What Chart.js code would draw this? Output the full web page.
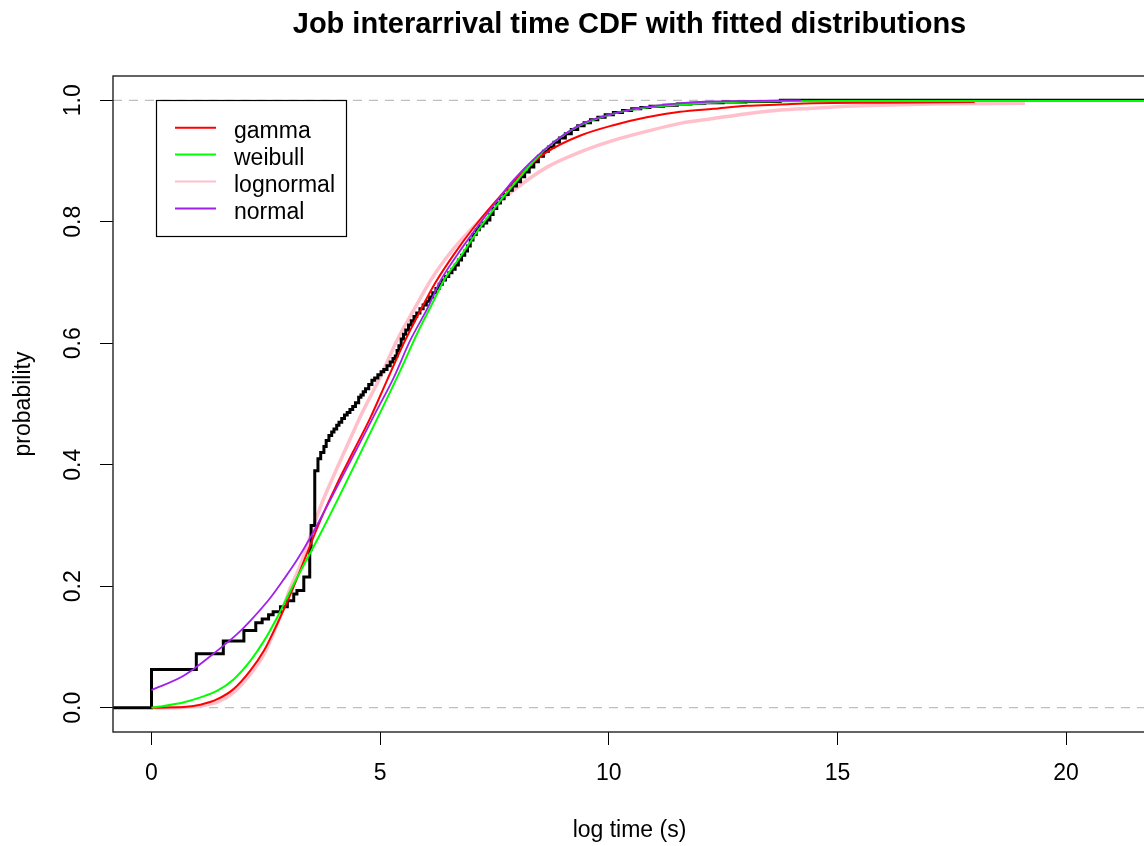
<!DOCTYPE html>
<html>
<head>
<meta charset="utf-8">
<script src="https://cdn.jsdelivr.net/npm/chart.js@4.4.1/dist/chart.umd.min.js"></script>
<style>
  html, body { margin: 0; padding: 0; background: #fff; overflow: hidden; width: 1144px; height: 846px; }
  canvas { display: block; }
</style>
</head>
<body>
<canvas id="c" width="1150" height="846" style="width:1150px;height:846px"></canvas>
<script>
// Empirical CDF of log interarrival time (step points: level after each jump)
const ecdfX = [-1, 0, 0.98, 1.57, 2.02, 2.28, 2.42, 2.56, 2.66, 2.82, 2.97, 3.11, 3.18, 3.33, 3.46, 3.49,
  3.57, 3.64, 3.70, 3.77, 3.82, 3.88, 3.94, 3.99, 4.05, 4.10, 4.16, 4.22, 4.28, 4.34, 4.40, 4.46, 4.53, 4.58, 4.63, 4.68, 4.75, 4.82, 4.88, 4.95,
  5.02, 5.08, 5.15, 5.22, 5.28, 5.33, 5.37, 5.41, 5.46, 5.51, 5.56, 5.62, 5.68, 5.74, 5.80, 5.87, 5.94,
  6.01, 6.08, 6.15, 6.22, 6.29, 6.36, 6.43, 6.50, 6.57, 6.64, 6.71, 6.78, 6.85, 6.91, 6.97,
  7.03, 7.10, 7.17, 7.25, 7.33, 7.40, 7.47, 7.55, 7.63, 7.71, 7.80, 7.89, 7.98,
  8.07, 8.16, 8.26, 8.36, 8.46, 8.57, 8.68, 8.80, 8.92, 9.05, 9.18, 9.32, 9.46, 9.60, 9.76, 9.92,
  10.1, 10.3, 10.5, 10.7, 10.9, 11.2, 11.5, 11.8, 12.1, 12.5, 13.0, 13.75, 22.5];
const ecdfY = [0, 0.063, 0.089, 0.110, 0.127, 0.140, 0.146, 0.153, 0.158, 0.166, 0.176, 0.187, 0.193, 0.215, 0.26, 0.30,
  0.39, 0.41, 0.42, 0.43, 0.44, 0.448, 0.454, 0.459, 0.465, 0.470, 0.476, 0.482, 0.486, 0.491, 0.496, 0.502, 0.511, 0.515, 0.520, 0.525, 0.532, 0.539, 0.543, 0.548,
  0.553, 0.557, 0.563, 0.569, 0.575, 0.579, 0.588, 0.596, 0.607, 0.615, 0.622, 0.630, 0.637, 0.644, 0.650, 0.657, 0.663,
  0.669, 0.676, 0.683, 0.690, 0.697, 0.704, 0.710, 0.716, 0.722, 0.729, 0.737, 0.745, 0.752, 0.760, 0.770,
  0.779, 0.787, 0.793, 0.798, 0.803, 0.812, 0.822, 0.831, 0.838, 0.845, 0.852, 0.859, 0.866,
  0.874, 0.882, 0.890, 0.899, 0.908, 0.916, 0.923, 0.931, 0.938, 0.945, 0.952, 0.958, 0.963, 0.968, 0.972, 0.976,
  0.980, 0.983, 0.986, 0.988, 0.990, 0.992, 0.994, 0.995, 0.996, 0.997, 0.998, 1.0, 1.0];

// Fitted gamma CDF
const gammaX = [0, 0.71, 1.07, 1.44, 1.80, 2.16, 2.46, 2.75, 3.04, 3.22, 3.69, 4.06, 4.42, 4.79, 5.15, 5.51, 5.88, 6.21, 6.61, 7.05, 7.48, 7.92, 8.28, 8.65, 9.38, 10.1, 10.83, 11.56, 12.29, 13.02, 13.75, 14.47, 15.9, 18.0];
const gammaY = [0, 0.001, 0.005, 0.014, 0.031, 0.061, 0.094, 0.138, 0.187, 0.220, 0.308, 0.369, 0.423, 0.478, 0.539, 0.599, 0.654, 0.700, 0.746, 0.791, 0.830, 0.866, 0.893, 0.915, 0.942, 0.959, 0.972, 0.981, 0.986, 0.991, 0.993, 0.995, 0.996, 0.997];

// Fitted Weibull CDF
const weibullX = [0, 0.2, 0.71, 1.07, 1.44, 1.80, 2.16, 2.46, 2.75, 3.04, 3.26, 3.69, 4.06, 4.42, 4.93, 5.44, 5.81, 6.17, 6.39, 6.75, 7.19, 7.63, 7.92, 8.28, 8.65, 9.38, 10.1, 10.83, 11.56, 12.29, 13.0, 15.0, 22.5];
const weibullY = [0, 0.002, 0.009, 0.017, 0.028, 0.047, 0.077, 0.110, 0.149, 0.193, 0.225, 0.286, 0.341, 0.396, 0.475, 0.555, 0.616, 0.670, 0.703, 0.742, 0.791, 0.835, 0.861, 0.893, 0.922, 0.959, 0.978, 0.988, 0.993, 0.996, 0.998, 0.999, 0.999];

// Fitted lognormal CDF
const lognormalX = [0, 0.71, 1.07, 1.44, 1.80, 2.16, 2.46, 2.75, 3.04, 3.22, 3.69, 4.06, 4.42, 4.57, 5.0, 5.37, 5.73, 6.10, 6.46, 6.97, 7.48, 7.92, 8.65, 9.38, 10.1, 10.83, 11.56, 12.29, 13.02, 13.75, 14.48, 15.2, 15.9, 17.1, 19.1];
const lognormalY = [0, 0.0005, 0.003, 0.009, 0.025, 0.055, 0.088, 0.138, 0.198, 0.228, 0.33, 0.395, 0.455, 0.480, 0.544, 0.605, 0.654, 0.703, 0.742, 0.786, 0.824, 0.852, 0.890, 0.915, 0.934, 0.949, 0.962, 0.970, 0.978, 0.984, 0.987, 0.990, 0.992, 0.994, 0.995];

// Fitted normal CDF
const normalX = [0, 0.71, 1.44, 1.87, 2.16, 2.60, 2.89, 3.18, 3.48, 3.77, 4.06, 4.42, 4.86, 5.30, 5.66, 6.03, 6.32, 6.68, 7.12, 7.56, 7.92, 8.58, 9.38, 10.1, 10.83, 11.56, 12.3, 13.2, 14.2];
const normalY = [0.029, 0.053, 0.094, 0.121, 0.143, 0.181, 0.211, 0.243, 0.281, 0.322, 0.364, 0.416, 0.480, 0.544, 0.605, 0.657, 0.703, 0.745, 0.791, 0.835, 0.869, 0.918, 0.960, 0.978, 0.989, 0.995, 0.998, 0.999, 1.0];

// Axes
const xTicks = [0, 5, 10, 15, 20];
const yTicks = [0, 0.2, 0.4, 0.6, 0.8, 1.0];
const refLines = [0, 1];

// Legend
const legendNames = ['gamma', 'weibull', 'lognormal', 'normal'];
const legendColors = ['#ff0000', '#00ff00', '#ffc0cb', '#a020f0'];

const chartTitle = 'Job interarrival time CDF with fitted distributions';
const xTitle = 'log time (s)';
const yTitle = 'probability';

const FONT = '"Liberation Sans", Arial, Helvetica, sans-serif';

function pts(xs, ys) { return xs.map((x, i) => ({ x: x, y: ys[i] })); }

const decor = {
  id: 'decor',
  beforeDatasetsDraw(chart) {
    const { ctx, chartArea: a, scales: { y } } = chart;
    ctx.save();
    ctx.strokeStyle = '#bebebe';
    ctx.lineWidth = 1.3;
    ctx.setLineDash([9, 7]);
    refLines.forEach(v => {
      const py = y.getPixelForValue(v);
      ctx.beginPath();
      ctx.moveTo(a.left, py);
      ctx.lineTo(a.right, py);
      ctx.stroke();
    });
    ctx.restore();
  },
  afterDraw(chart) {
    const { ctx, chartArea: a, scales: { y } } = chart;
    ctx.save();
    // plot frame
    ctx.strokeStyle = '#222';
    ctx.lineWidth = 1.4;
    ctx.strokeRect(a.left, a.top, a.right - a.left, a.bottom - a.top);

    // rotated y tick labels
    ctx.fillStyle = '#000';
    ctx.font = '23px ' + FONT;
    ctx.textAlign = 'center';
    ctx.textBaseline = 'alphabetic';
    yTicks.forEach(v => {
      ctx.save();
      ctx.translate(80, y.getPixelForValue(v));
      ctx.rotate(-Math.PI / 2);
      ctx.fillText(v.toFixed(1), 0, 0);
      ctx.restore();
    });

    // y axis title
    ctx.save();
    ctx.translate(29.5, (a.top + a.bottom) / 2);
    ctx.rotate(-Math.PI / 2);
    ctx.fillText(yTitle, 0, 0);
    ctx.restore();

    // x axis title
    ctx.fillText(xTitle, (a.left + a.right) / 2 - 2, 837);

    // main title
    ctx.font = 'bold 29px ' + FONT;
    ctx.fillText(chartTitle, (a.left + a.right) / 2 - 2, 33);

    // legend box
    const bx = 156.5, by = 100.5, bw = 190, bh = 136;
    ctx.fillStyle = '#fff';
    ctx.fillRect(bx, by, bw, bh);
    ctx.strokeStyle = '#000';
    ctx.lineWidth = 1.2;
    ctx.strokeRect(bx, by, bw, bh);
    ctx.font = '23px ' + FONT;
    ctx.textAlign = 'left';
    legendNames.forEach((name, i) => {
      const ly = 127.7 + i * 26.9;
      ctx.strokeStyle = legendColors[i];
      ctx.lineWidth = 2;
      ctx.beginPath();
      ctx.moveTo(175, ly);
      ctx.lineTo(216, ly);
      ctx.stroke();
      ctx.fillStyle = '#000';
      ctx.fillText(name, 234, ly + 10.5);
    });
    ctx.restore();
  }
};

const curve = (label, xs, ys, color, width, order) => ({
  label, data: pts(xs, ys), borderColor: color, borderWidth: width,
  pointRadius: 0, fill: false, cubicInterpolationMode: 'monotone', order
});

new Chart(document.getElementById('c'), {
  type: 'line',
  data: {
    datasets: [
      curve('normal', normalX, normalY, '#a020f0', 1.8, 0),
      curve('weibull', weibullX, weibullY, '#00ff00', 2, 1),
      curve('gamma', gammaX, gammaY, '#ff0000', 2, 2),
      {
        label: 'ecdf', data: pts(ecdfX, ecdfY), borderColor: '#000', borderWidth: 3,
        pointRadius: 0, fill: false, stepped: 'before', order: 3
      },
      curve('lognormal', lognormalX, lognormalY, '#ffc0cb', 3.5, 4)
    ]
  },
  options: {
    responsive: false,
    animation: false,
    events: [],
    layout: { padding: { top: 76, left: 0, right: 0, bottom: 0 } },
    plugins: { legend: { display: false }, tooltip: { enabled: false }, title: { display: false } },
    scales: {
      x: {
        type: 'linear',
        min: -0.842,
        max: 21.835,
        afterBuildTicks: s => { s.ticks = xTicks.map(v => ({ value: v })); },
        afterFit: s => { s.height = 114; },
        grid: { drawOnChartArea: false, drawTicks: true, tickLength: 13, color: '#000', lineWidth: 1 },
        border: { display: false },
        ticks: { color: '#000', font: { family: FONT, size: 23 }, padding: 15, maxRotation: 0, minRotation: 0 }
      },
      y: {
        type: 'linear',
        min: -0.04,
        max: 1.04,
        afterBuildTicks: s => { s.ticks = yTicks.map(v => ({ value: v })); },
        afterFit: s => { s.width = 113; },
        grid: { drawOnChartArea: false, drawTicks: true, tickLength: 13, color: '#000', lineWidth: 1 },
        border: { display: false },
        ticks: { color: 'rgba(0,0,0,0)', font: { family: FONT, size: 23 } }
      }
    }
  },
  plugins: [decor]
});
</script>
</body>
</html>
